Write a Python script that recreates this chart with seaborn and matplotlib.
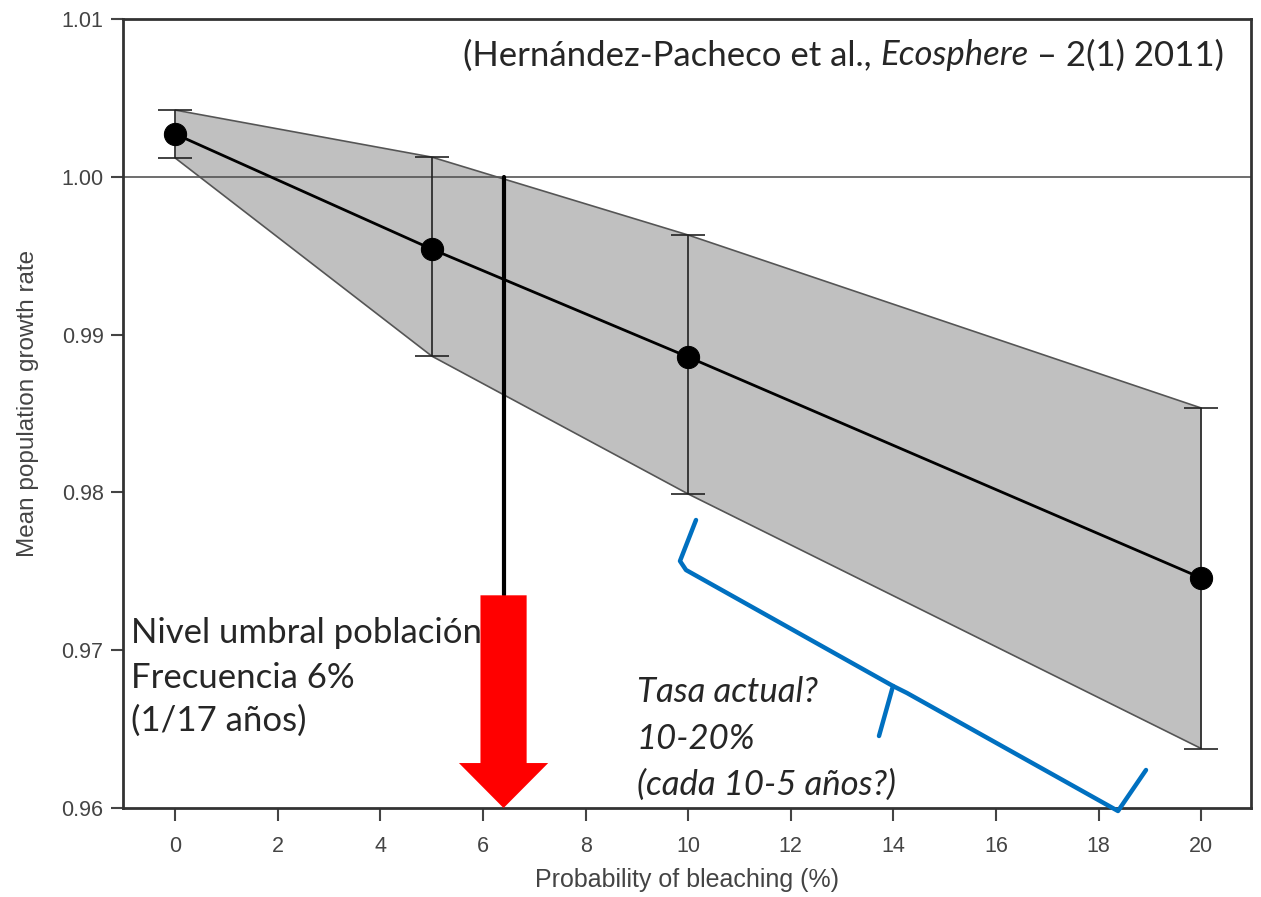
import numpy as np
import pandas as pd
import matplotlib
matplotlib.use("Agg")
import matplotlib.pyplot as plt
from matplotlib.patches import Polygon
import seaborn as sns

# ---- data ----
prob = [0, 5, 10, 20]
mean_rate = [1.00271, 0.99542, 0.98858, 0.97458]
upper_rate = [1.00423, 1.00125, 0.99631, 0.98535]
lower_rate = [1.00119, 0.98864, 0.97990, 0.96377]

x_ticks = [0, 2, 4, 6, 8, 10, 12, 14, 16, 18, 20]
y_ticks = [0.96, 0.97, 0.98, 0.99, 1.00, 1.01]

threshold_rate = 1.00
threshold_prob = 6.4

# annotation geometry (data coords)
arrow_top = 0.97348
arrow_head_base = 0.96285
arrow_shaft_half = 0.45
arrow_head_half = 0.87

brace_px_x = [696, 680, 686, 893, 879, 893, 907, 1118, 1146]
brace_px_y = [520, 561, 570, 686, 736, 686, 693, 811, 770]

df = pd.DataFrame({"prob": prob, "mean": mean_rate,
                   "upper": upper_rate, "lower": lower_rate})

sns.set_style("ticks")
plt.rcParams["font.family"] = ["Liberation Sans", "DejaVu Sans"]

fig = plt.figure(figsize=(12.61, 8.97), dpi=100)
ax = fig.add_axes([0.0975, 0.0992, 0.8945, 0.8796])
ax.set_facecolor("white")

ax.set_xlim(-1.02, 20.97)
ax.set_ylim(0.96, 1.01)

# shaded band
ax.fill_between(df["prob"], df["lower"], df["upper"], color="#c0c0c0",
                linewidth=0, zorder=1)
ax.plot(df["prob"], df["upper"], color="#555555", lw=1.2, zorder=2)
ax.plot(df["prob"], df["lower"], color="#555555", lw=1.2, zorder=2)

# reference line at 1.00
ax.axhline(threshold_rate, color="#555555", lw=1.2, zorder=2)

# error bars
ax.errorbar(df["prob"], df["mean"],
            yerr=[df["mean"] - df["lower"], df["upper"] - df["mean"]],
            fmt="none", ecolor="#222222", elinewidth=1.2, capsize=12,
            capthick=1.2, zorder=3)

# mean line with markers
sns.lineplot(data=df, x="prob", y="mean", ax=ax, color="black", lw=2,
             marker="o", markersize=16, markeredgecolor="black",
             zorder=5, legend=False)

# vertical threshold line
ax.plot([threshold_prob, threshold_prob], [threshold_rate, arrow_top],
        color="black", lw=3, zorder=4)

# red arrow
arrow_pts = [
    (threshold_prob - arrow_shaft_half, arrow_top),
    (threshold_prob + arrow_shaft_half, arrow_top),
    (threshold_prob + arrow_shaft_half, arrow_head_base),
    (threshold_prob + arrow_head_half, arrow_head_base),
    (threshold_prob, 0.96),
    (threshold_prob - arrow_head_half, arrow_head_base),
    (threshold_prob - arrow_shaft_half, arrow_head_base),
]
ax.add_patch(Polygon(arrow_pts, closed=True, facecolor="#ff0000",
                     edgecolor="none", zorder=6, clip_on=False))

# blue brace (drawn in figure pixel coords)
W, H = 1261, 897
bx = [p / W for p in brace_px_x]
by = [1 - p / H for p in brace_px_y]
fig.add_artist(plt.Line2D(bx[:5], by[:5], color="#0070c0", lw=3.2,
                          solid_joinstyle="round", solid_capstyle="round",
                          transform=fig.transFigure, zorder=7))
fig.add_artist(plt.Line2D(bx[5:], by[5:], color="#0070c0", lw=3.2,
                          solid_joinstyle="round", solid_capstyle="round",
                          transform=fig.transFigure, zorder=7))

# axes styling
for s in ax.spines.values():
    s.set_color("#333333")
    s.set_linewidth(2)
ax.set_xticks(x_ticks)
ax.set_yticks(y_ticks)
ax.set_yticklabels([f"{v:.2f}" for v in y_ticks])
ax.tick_params(axis="both", direction="out", length=9, width=1.5,
               color="#444444", labelcolor="#444444", labelsize=15.5)
ax.tick_params(axis="x", pad=11)
ax.tick_params(axis="y", pad=5)
ax.set_xlabel("Probability of bleaching (%)", fontsize=18,
              color="#444444", labelpad=8)
ax.set_ylabel("Mean population growth rate", fontsize=17.5,
              color="#444444", labelpad=14)
ax.yaxis.set_label_coords(-0.074, 0.513)

# annotation texts (Calibri-like)
afont = ["Lato", "DejaVu Sans"]
tsize = 25
ax.text(-0.86, 0.97110, "Nivel umbral población", fontsize=tsize,
        family=afont, va="center", ha="left", zorder=8)
ax.text(-0.86, 0.96825, "Frecuencia 6%", fontsize=tsize,
        family=afont, va="center", ha="left", zorder=8)
ax.text(-0.86, 0.96550, "(1/17 años)", fontsize=tsize,
        family=afont, va="center", ha="left", zorder=8)

ax.text(9.0, 0.96735, "Tasa actual?", fontsize=tsize, family=afont,
        style="italic", va="center", ha="left", zorder=8)
ax.text(9.0, 0.96440, "10-20%", fontsize=tsize, family=afont,
        style="italic", va="center", ha="left", zorder=8)
ax.text(9.0, 0.96150, "(cada 10-5 años?)", fontsize=tsize, family=afont,
        style="italic", va="center", ha="left", zorder=8)

t1 = ax.text(5.6, 1.00668, "(Hernández-Pacheco et al., ", fontsize=tsize,
             family=afont, va="bottom", ha="left", zorder=8)
t2 = ax.annotate("Ecosphere", xy=(1, 0), xycoords=t1, fontsize=tsize,
                 family=afont, style="italic", va="bottom", ha="left",
                 zorder=8)
t3 = ax.annotate(" – 2(1) 2011)", xy=(1, 0), xycoords=t2, fontsize=tsize,
                 family=afont, va="bottom", ha="left", zorder=8)

fig.savefig("out.png", dpi=100, facecolor="white")
